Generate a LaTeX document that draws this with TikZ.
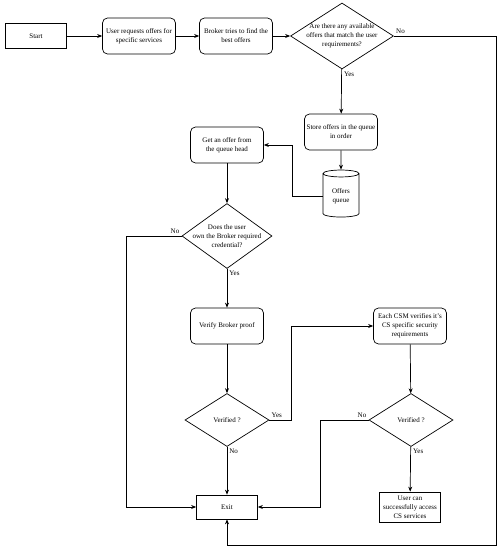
\documentclass[tikz,border=0pt]{standalone}
\usepackage{fontspec}
\setmainfont{Liberation Serif}
\usetikzlibrary{shapes.geometric,arrows.meta}

\tikzset{
  procbox/.style={draw, rounded corners=5pt, minimum width=73pt, minimum height=36pt, align=center, inner sep=1pt},
  plainbox/.style={draw, minimum width=61pt, minimum height=25pt, align=center, inner sep=1pt},
  decision/.style={draw, diamond, inner sep=0pt},
  question/.style={label={[align=center, inner sep=0pt]center:{#1}}},
  store/.style={draw, cylinder, shape border rotate=90, shape aspect=0.35, minimum width=36pt, minimum height=47pt, align=center, inner sep=1pt},
  tag/.style={inner sep=2pt}
}

\begin{document}
\begin{tikzpicture}[x=1pt, y=-1pt, line width=0.7pt,
    font=\fontsize{7}{9}\selectfont, >={Stealth[length=5pt,width=4pt]}]
  \useasboundingbox (0,0) rectangle (500,550);

  % Top row
  \node[plainbox] (start) at (36,36) {Start};
  \node[procbox] (request) at (139,36) {User requests offers for\\specific services};
  \node[procbox] (broker) at (236,36) {Broker tries to find the\\best offers};
  \node[decision, minimum width=103pt, minimum height=66pt,
    question={Are there any available\\offers that match the user\\requirements?}] (match) at (342,36) {};

  % Queue
  \node[procbox] (storeq) at (341,132) {Store offers in the queue\\in order};
  \node[store] (queue) at (341,196) {Offers\\queue};
  \node[procbox] (gethead) at (227,145) {Get an offer from\\the queue head};

  % Broker checks
  \node[decision, minimum width=90pt, minimum height=65pt,
    question={Does the user\\own the Broker required\\credential?}] (owns) at (227,236) {};
  \node[procbox] (verify) at (227,326) {Verify Broker proof};
  \node[decision, minimum width=84pt, minimum height=53pt, question={Verified ?}] (check1) at (227,420) {};

  % CSM checks
  \node[procbox] (csm) at (410,326) {Each CSM verifies it's\\CS specific security\\requirements};
  \node[decision, minimum width=84pt, minimum height=53pt, question={Verified ?}] (check2) at (411,420) {};
  \node[plainbox, minimum height=30pt] (access) at (410,507) {User can\\successfully access\\CS services};
  \node[plainbox, minimum height=24pt] (exit) at (227,507) {Exit};

  \draw[->] (start) -- (request);
  \draw[->] (request) -- (broker);
  \draw[->] (broker) -- (match);
  \draw[->] (match) -- node[tag, below right, pos=0]{Yes} (storeq);
  \draw[->] (match.east) -- node[tag, above right, pos=0]{No} ++(102,0) -- ++(0,509) -| (exit.south);
  \draw[->] (storeq) -- (queue);
  \draw[->] (queue.west) -- ++(-30,0) |- (gethead.east);
  \draw[->] (gethead) -- (owns);
  \draw[->] (owns) -- node[tag, below right, pos=0]{Yes} (verify);
  \draw[->] (owns.west) -- node[tag, above left, pos=0]{No} ++(-55,0) |- (exit.west);
  \draw[->] (verify) -- (check1);
  \draw[->] (check1.east) -- node[tag, above right, pos=0]{Yes} ++(22,0) |- (csm.west);
  \draw[->] (check1) -- node[tag, below right, pos=0]{No} (exit);
  \draw[->] (csm) -- (check2);
  \draw[->] (check2.west) -- node[tag, above left, pos=0]{No} ++(-48,0) |- (exit.east);
  \draw[->] (check2) -- node[tag, below right, pos=0]{Yes} (access);
\end{tikzpicture}
\end{document}
